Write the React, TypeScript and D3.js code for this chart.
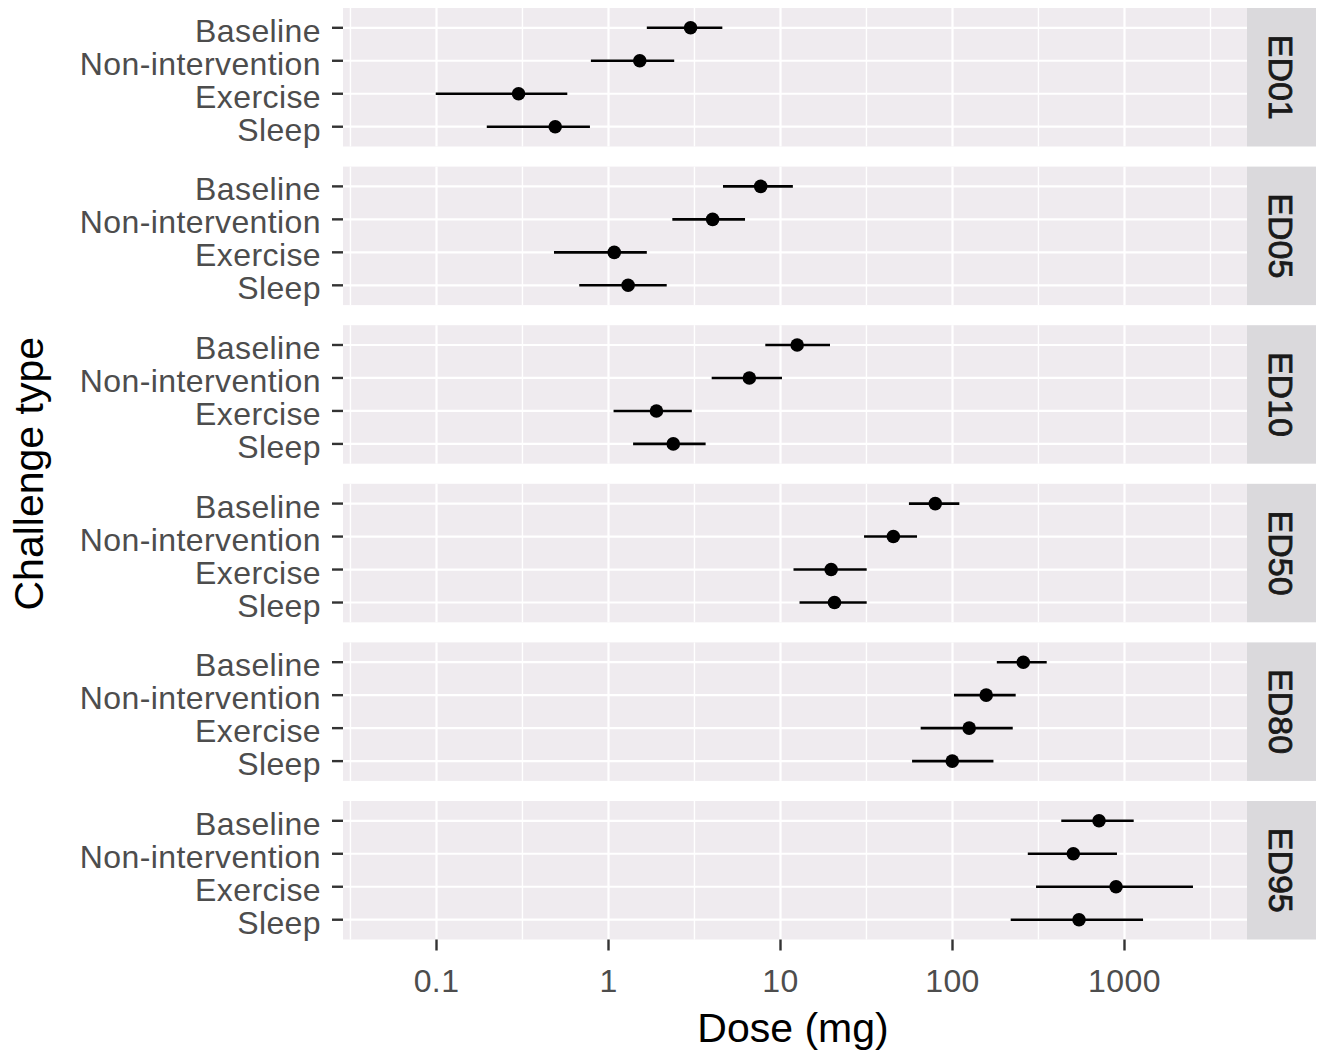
import * as d3 from "d3";
import React from "react";

// facets (top to bottom) and categories (top to bottom within a facet)
const panels = ["ED01", "ED05", "ED10", "ED50", "ED80", "ED95"];
const categories = ["Baseline", "Non-intervention", "Exercise", "Sleep"];

// point estimates per facet, in the order of categories
const estimate = [
    [3.0, 1.52, 0.30, 0.49],
    [7.67, 4.03, 1.08, 1.30],
    [12.5, 6.59, 1.90, 2.38],
    [79.4, 45.3, 19.7, 20.6],
    [258, 157, 125, 99.7],
    [711, 504, 893, 544],
];
const lower = [
    [1.67, 0.79, 0.099, 0.196],
    [4.63, 2.35, 0.482, 0.676],
    [8.16, 3.98, 1.07, 1.39],
    [55.8, 30.6, 11.9, 12.9],
    [181, 102, 65.3, 58.2],
    [429, 274, 306, 218],
];
const upper = [
    [4.59, 2.41, 0.576, 0.78],
    [11.8, 6.22, 1.67, 2.18],
    [19.4, 10.2, 3.05, 3.67],
    [109.6, 62.2, 31.7, 31.7],
    [353, 233, 224, 173],
    [1131, 904, 2501, 1282],
];
const xTicks = [0.1, 1, 10, 100, 1000];
const xMinor = [0.0316, 0.316, 3.16, 31.6, 316, 3162];

const width = 1323;
const height = 1054;
const left = 343;
const right = 1247;
const stripW = 69;
const top0 = 8;
const panelH = 138.5;
const panelStep = 158.6;

const font = "'Liberation Sans', Arial, Helvetica, sans-serif";
const panelFill = "#EFEBEF";
const stripFill = "#DAD9DC";

const App = () => {
    const x = d3.scaleLog().domain([0.0286, 5155]).range([left, right]);
    const bottom = top0 + panelStep * (panels.length - 1) + panelH;

    return (
        <div style={{ position: "absolute", left: 0, top: 0 }}>
            <svg width={width} height={height} style={{ display: "block", background: "#fff" }}>
                {panels.map((p, i) => {
                    const t = top0 + panelStep * i;
                    const y = d3.scalePoint().domain(categories).range([t, t + panelH]).padding(0.6);
                    return (
                        <g key={p}>
                            <rect x={left} y={t} width={right - left} height={panelH} fill={panelFill} />
                            {xMinor.map((v) => (
                                <line key={"m" + v} x1={x(v)} x2={x(v)} y1={t} y2={t + panelH}
                                    stroke="#fff" strokeWidth={1.4} />
                            ))}
                            {xTicks.map((v) => (
                                <line key={"M" + v} x1={x(v)} x2={x(v)} y1={t} y2={t + panelH}
                                    stroke="#fff" strokeWidth={2.2} />
                            ))}
                            {categories.map((c) => (
                                <line key={"h" + c} x1={left} x2={right} y1={y(c)} y2={y(c)}
                                    stroke="#fff" strokeWidth={2.2} />
                            ))}
                            {/* y axis */}
                            {categories.map((c) => (
                                <g key={"t" + c}>
                                    <line x1={left - 11} x2={left} y1={y(c)} y2={y(c)} stroke="#333" strokeWidth={2.4} />
                                    <text x={left - 22} y={y(c) + 14} textAnchor="end" letterSpacing={0.4}
                                        fontFamily={font} fontSize={32} fill="#4D4D4D">{c}</text>
                                </g>
                            ))}
                            {/* intervals and points */}
                            {categories.map((c, j) => (
                                <g key={"d" + c}>
                                    <line x1={x(lower[i][j])} x2={x(upper[i][j])} y1={y(c)} y2={y(c)}
                                        stroke="#000" strokeWidth={2.6} />
                                    <circle cx={x(estimate[i][j])} cy={y(c)} r={6.8} fill="#000" />
                                </g>
                            ))}
                            {/* strip */}
                            <rect x={right} y={t} width={stripW} height={panelH} fill={stripFill} />
                            <text transform={`translate(${right + stripW / 2},${t + panelH / 2}) rotate(90)`}
                                textAnchor="middle" dy="0.36em" fontFamily={font} fontSize={34}
                                fill="#1A1A1A" stroke="#1A1A1A" strokeWidth={0.8}>{p}</text>
                        </g>
                    );
                })}
                {/* x axis */}
                {xTicks.map((v) => (
                    <g key={"xt" + v}>
                        <line x1={x(v)} x2={x(v)} y1={bottom} y2={bottom + 11} stroke="#333" strokeWidth={2.4} />
                        <text x={x(v)} y={bottom + 52} textAnchor="middle" fontFamily={font} letterSpacing={0.4}
                            fontSize={32} fill="#4D4D4D">{d3.format("~g")(v)}</text>
                    </g>
                ))}
                <text x={(left + right) / 2 - 2} y={1042} textAnchor="middle" fontFamily={font}
                    fontSize={41} fill="#000">Dose (mg)</text>
                <text transform={`translate(43,${(top0 + bottom) / 2}) rotate(-90)`} textAnchor="middle"
                    fontFamily={font} fontSize={41} fill="#000">Challenge type</text>
            </svg>
        </div>
    );
};

export default App;
